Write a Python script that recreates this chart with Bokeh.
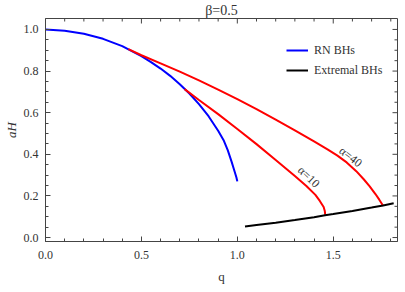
import math
from bokeh.plotting import figure
from bokeh.models import (Range1d, FixedTicker, Label, Legend,
                          LegendItem, NumeralTickFormatter)
from bokeh.embed import file_html
from bokeh.resources import INLINE

# ---- data ----
rn_q = [0.0, 0.1, 0.2, 0.3, 0.4, 0.5, 0.55, 0.6, 0.65, 0.7, 0.75, 0.8, 0.85, 0.9,
        0.93, 0.95, 0.97, 0.985, 0.995, 1.0]
rn_a = [1.0, 0.994, 0.979, 0.955, 0.92, 0.872, 0.843, 0.812, 0.777, 0.737, 0.692,
        0.641, 0.583, 0.513, 0.465, 0.42, 0.365, 0.32, 0.29, 0.27]

a40_q = [0.432, 0.5, 0.6, 0.7, 0.8, 0.9, 1.0, 1.1, 1.2, 1.3, 1.4, 1.47, 1.52, 1.57,
         1.62, 1.66, 1.69, 1.72, 1.74, 1.76]
a40_a = [0.905, 0.876, 0.837, 0.797, 0.755, 0.711, 0.665, 0.617, 0.567, 0.515,
         0.462, 0.424, 0.395, 0.361, 0.319, 0.279, 0.246, 0.209, 0.182, 0.153]

a10_q = [0.725, 0.8, 0.9, 1.0, 1.1, 1.2, 1.3, 1.36, 1.407, 1.43, 1.45, 1.456, 1.458]
a10_a = [0.713, 0.661, 0.593, 0.522, 0.449, 0.373, 0.296, 0.248, 0.205, 0.176,
         0.147, 0.128, 0.11]

ext_q = [1.04, 1.1, 1.2, 1.3, 1.4, 1.457, 1.5, 1.6, 1.7, 1.76, 1.815]
ext_a = [0.053, 0.060, 0.071, 0.084, 0.098, 0.107, 0.113, 0.128, 0.144, 0.154, 0.165]

x_major = [0.0, 0.5, 1.0, 1.5]
x_minor = [0.1, 0.2, 0.3, 0.4, 0.6, 0.7, 0.8, 0.9, 1.1, 1.2, 1.3, 1.4, 1.6, 1.7, 1.8]
y_major = [0.0, 0.2, 0.4, 0.6, 0.8, 1.0]
y_minor = [0.05, 0.1, 0.15, 0.25, 0.3, 0.35, 0.45, 0.5, 0.55, 0.65, 0.7, 0.75,
           0.85, 0.9, 0.95]

X_START, X_END = 0.0, 1.835
Y_START, Y_END = -0.019, 1.0526

FONT = "Liberation Serif"
LINE_C = "#444444"
TEXT_C = "#333333"

p = figure(width=400, height=286, output_backend="svg", toolbar_location=None,
           x_range=Range1d(X_START, X_END), y_range=Range1d(Y_START, Y_END),
           min_border_left=40, min_border_right=3, min_border_top=0,
           min_border_bottom=45, title="β=0.5")
p.grid.visible = False
p.outline_line_color = LINE_C

p.title.align = "center"
p.title.text_font = FONT
p.title.text_font_size = "14px"
p.title.text_font_style = "normal"
p.title.text_color = TEXT_C
p.title.standoff = 1


def style_axis(ax, ticker):
    ax.ticker = ticker
    ax.axis_line_color = LINE_C
    ax.major_tick_line_color = LINE_C
    ax.minor_tick_line_color = LINE_C
    ax.major_tick_in = 5
    ax.major_tick_out = 0
    ax.minor_tick_in = 3
    ax.minor_tick_out = 0
    ax.major_label_text_font = FONT
    ax.major_label_text_color = TEXT_C
    ax.major_label_text_font_size = "12px"
    ax.formatter = NumeralTickFormatter(format="0.0")
    ax.axis_label_text_font = FONT
    ax.axis_label_text_color = TEXT_C
    ax.axis_label_text_font_size = "13px"


xa = p.xaxis[0]
style_axis(xa, FixedTicker(ticks=x_major, minor_ticks=x_minor))
xa.major_label_standoff = 9
xa.axis_label = "q"
xa.axis_label_text_font_style = "normal"
xa.axis_label_standoff = 7

ya = p.yaxis[0]
style_axis(ya, FixedTicker(ticks=y_major, minor_ticks=y_minor))
ya.major_label_standoff = 7
ya.axis_label = "aH"
ya.axis_label_text_font_style = "italic"
ya.axis_label_standoff = 2

# frame ticks on the top and right edges (inward, no labels)
p.ray(x=x_major, y=[Y_END] * len(x_major), length=5, length_units="screen",
      angle=-math.pi / 2, line_color=LINE_C, line_width=1)
p.ray(x=x_minor, y=[Y_END] * len(x_minor), length=3, length_units="screen",
      angle=-math.pi / 2, line_color=LINE_C, line_width=1)
p.ray(x=[X_END] * len(y_major), y=y_major, length=5, length_units="screen",
      angle=math.pi, line_color=LINE_C, line_width=1)
p.ray(x=[X_END] * len(y_minor), y=y_minor, length=3, length_units="screen",
      angle=math.pi, line_color=LINE_C, line_width=1)

blue = p.line(rn_q, rn_a, line_color="#0000ff", line_width=2)
p.line(a40_q, a40_a, line_color="#ff0000", line_width=2)
p.line(a10_q, a10_a, line_color="#ff0000", line_width=2)
black = p.line(ext_q, ext_a, line_color="black", line_width=2)

legend = Legend(items=[LegendItem(label="RN BHs", renderers=[blue]),
                       LegendItem(label="Extremal BHs", renderers=[black])],
                location=(241, 161), padding=0, margin=0, spacing=0,
                glyph_width=22, glyph_height=20, label_height=20,
                label_standoff=6, label_text_font=FONT,
                label_text_font_size="12px", label_text_color=TEXT_C,
                background_fill_alpha=0, border_line_alpha=0)
p.add_layout(legend)

lab_kw = dict(text_font=FONT, text_color=TEXT_C, text_align="center",
              text_baseline="middle", text_font_size="12px")
p.add_layout(Label(x=1.591, y=0.388, text="α=40", angle=math.radians(-38), **lab_kw))
p.add_layout(Label(x=1.373, y=0.292, text="α=10", angle=math.radians(-44), **lab_kw))

open("out.html", "w").write(file_html(p, INLINE))
